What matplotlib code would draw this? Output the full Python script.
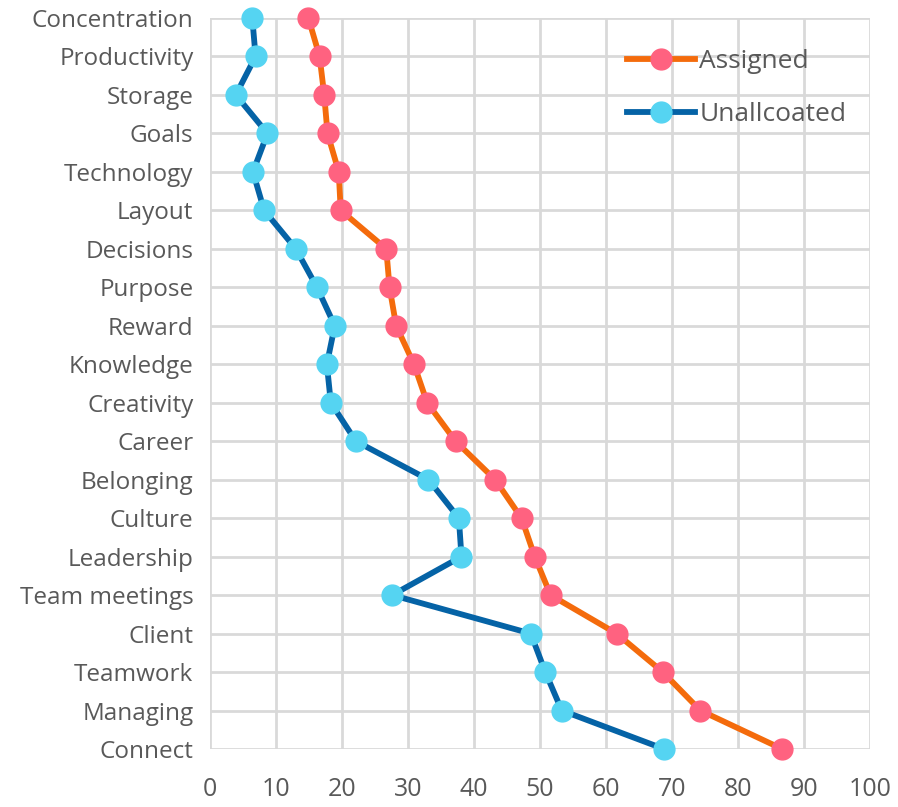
import numpy as np
import matplotlib.pyplot as plt

categories = ["Concentration", "Productivity", "Storage", "Goals", "Technology",
              "Layout", "Decisions", "Purpose", "Reward", "Knowledge",
              "Creativity", "Career", "Belonging", "Culture", "Leadership",
              "Team meetings", "Client", "Teamwork", "Managing", "Connect"]
assigned = [14.9, 16.6, 17.3, 17.8, 19.5, 19.8, 26.7, 27.2, 28.2, 30.9,
            32.9, 37.2, 43.2, 47.2, 49.2, 51.6, 61.6, 68.6, 74.3, 86.7]
unallocated = [6.4, 6.9, 3.9, 8.7, 6.5, 8.2, 13.0, 16.2, 18.9, 17.7,
               18.3, 22.1, 33.1, 37.7, 38.1, 27.6, 48.6, 50.8, 53.3, 68.8]
xticks = list(range(0, 101, 10))

plt.rcParams['font.family'] = ['Open Sans', 'DejaVu Sans']

fig = plt.figure(figsize=(8.98, 8.07), dpi=100)
ax = fig.add_axes([0.2339, 0.0719, 0.9688 - 0.2339, 0.9777 - 0.0719])

y = np.arange(len(categories))
ax.plot(assigned, y, color='#f46b0c', lw=4.2, marker='o', ms=15,
        mfc='#ff6280', mec='#ff6280', label='Assigned', clip_on=False, zorder=3)
ax.plot(unallocated, y, color='#0563a6', lw=4.2, marker='o', ms=15,
        mfc='#55d4f2', mec='#55d4f2', label='Unallcoated', clip_on=False, zorder=3)

ax.set_xlim(0, 100)
ax.set_ylim(len(categories) - 1, 0)
ax.set_xticks(xticks)
ax.set_yticks(y)
ax.set_yticklabels(categories)
ax.grid(True, color='#d9d9d9', lw=2)
ax.set_axisbelow(True)
for s in ax.spines.values():
    s.set_visible(False)
ax.tick_params(length=0, labelsize=17.5, labelcolor='#595959')
ax.tick_params(axis='x', pad=20, labelsize=18)
ax.tick_params(axis='y', pad=12)

leg = ax.legend(loc='upper right', bbox_to_anchor=(1.0, 0.99), frameon=False,
                fontsize=19, labelcolor='#595959', handlelength=2.6,
                handletextpad=0.15, labelspacing=1.05)

fig.savefig('out.png', dpi=100)
